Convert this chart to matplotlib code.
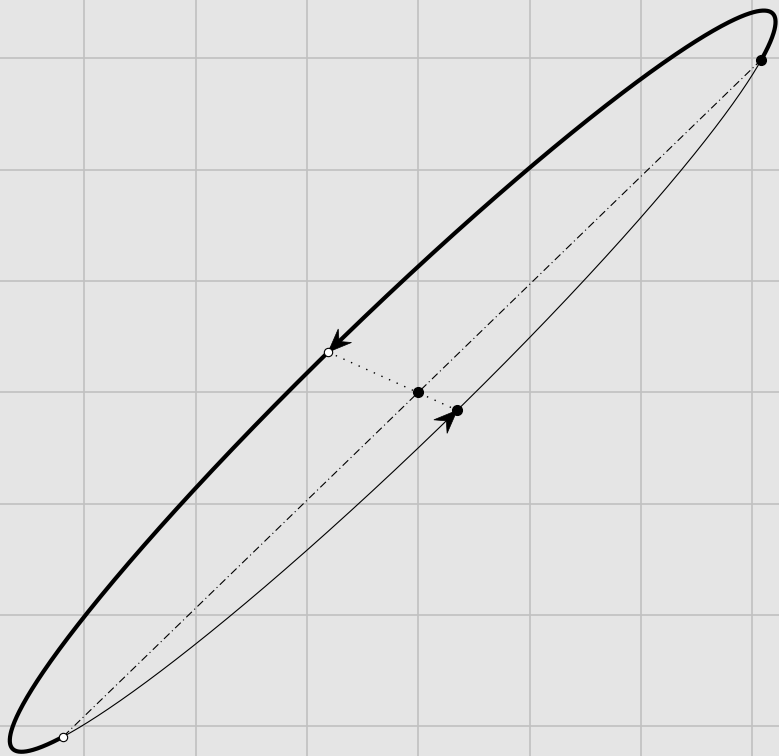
import numpy as np
import matplotlib
matplotlib.use('Agg')
import matplotlib.pyplot as plt
from matplotlib.patches import Polygon

# Параметры эллипса (в единицах сетки)
center_xy = [-0.23, 0.10]
amp_x = 3.44
amp_y = 3.33
phase_deg = 14.2

# Точки переключения ветвей (параметр t, градусы)
t_switch = [-15.6, 210.6]
# Концы диаметра, проходящего через начало координат
t_diam = [99.7, 279.7]
# Центральная точка
origin_pt = [0.0, 0.0]

grid_ticks = [-3, -2, -1, 0, 1, 2, 3]
x_limits = [-3.758, 3.241]
y_limits = [-3.268, 3.525]


def ellipse_xy(t_deg):
    t = np.radians(t_deg)
    x = center_xy[0] + amp_x * np.cos(t)
    y = center_xy[1] + amp_y * np.cos(t - np.radians(phase_deg))
    return x, y


def ellipse_dir(t_deg):
    t = np.radians(t_deg)
    dx = -amp_x * np.sin(t)
    dy = -amp_y * np.sin(t - np.radians(phase_deg))
    n = np.hypot(dx, dy)
    return dx / n, dy / n


def arrow_head(ax, t_deg, length=0.21, half_w=0.085):
    tx, ty = ellipse_xy(t_deg)
    dx, dy = ellipse_dir(t_deg)
    nx, ny = -dy, dx
    bx, by = tx - length * dx, ty - length * dy
    mx, my = tx - 0.65 * length * dx, ty - 0.65 * length * dy
    pts = [(tx, ty), (bx + half_w * nx, by + half_w * ny), (mx, my),
           (bx - half_w * nx, by - half_w * ny)]
    ax.add_patch(Polygon(pts, closed=True, facecolor='black', edgecolor='black',
                         linewidth=0.5, zorder=5))


fig = plt.figure(figsize=(7.79, 7.56), dpi=100)
ax = fig.add_axes([0, 0, 1, 1])
ax.set_facecolor('#e5e5e5')
ax.set_xlim(x_limits)
ax.set_ylim(y_limits)
ax.set_xticks(grid_ticks)
ax.set_yticks(grid_ticks)
ax.grid(True, color='#c0c0c0', linewidth=1.2)
ax.set_axisbelow(True)
ax.tick_params(length=0, labelbottom=False, labelleft=False)
for s in ax.spines.values():
    s.set_visible(False)

# Толстая ветвь
t_thick = np.linspace(t_switch[0], t_switch[1], 600)
ax.plot(*ellipse_xy(t_thick), color='black', linewidth=3.0, solid_capstyle='round', zorder=3)
# Тонкая ветвь
t_thin = np.linspace(t_switch[1], t_switch[0] + 360, 400)
ax.plot(*ellipse_xy(t_thin), color='black', linewidth=0.8, zorder=3)

# Штрихпунктир между точками переключения
sx, sy = ellipse_xy(np.array(t_switch))
ax.plot(sx, sy, color='black', linewidth=0.8, linestyle=(0, (7, 3, 1, 3)), zorder=2)

# Пунктирный диаметр
dxp, dyp = ellipse_xy(np.array(t_diam))
ax.plot(dxp, dyp, color='black', linewidth=1.0, linestyle=(0, (1, 5)), zorder=2)

# Стрелки
arrow_head(ax, t_diam[0])
arrow_head(ax, t_diam[1])

# Точки
ax.plot(sx[0], sy[0], 'o', color='black', markersize=7, zorder=6)
ax.plot(sx[1], sy[1], 'o', markerfacecolor='white', markeredgecolor='black',
        markersize=6, markeredgewidth=0.8, zorder=6)
ax.plot(dxp[0], dyp[0], 'o', markerfacecolor='white', markeredgecolor='black',
        markersize=6, markeredgewidth=0.8, zorder=6)
ax.plot(dxp[1], dyp[1], 'o', color='black', markersize=7, zorder=6)
ax.plot(origin_pt[0], origin_pt[1], 'o', color='black', markersize=7, zorder=6)

fig.savefig('out.png', dpi=100)
